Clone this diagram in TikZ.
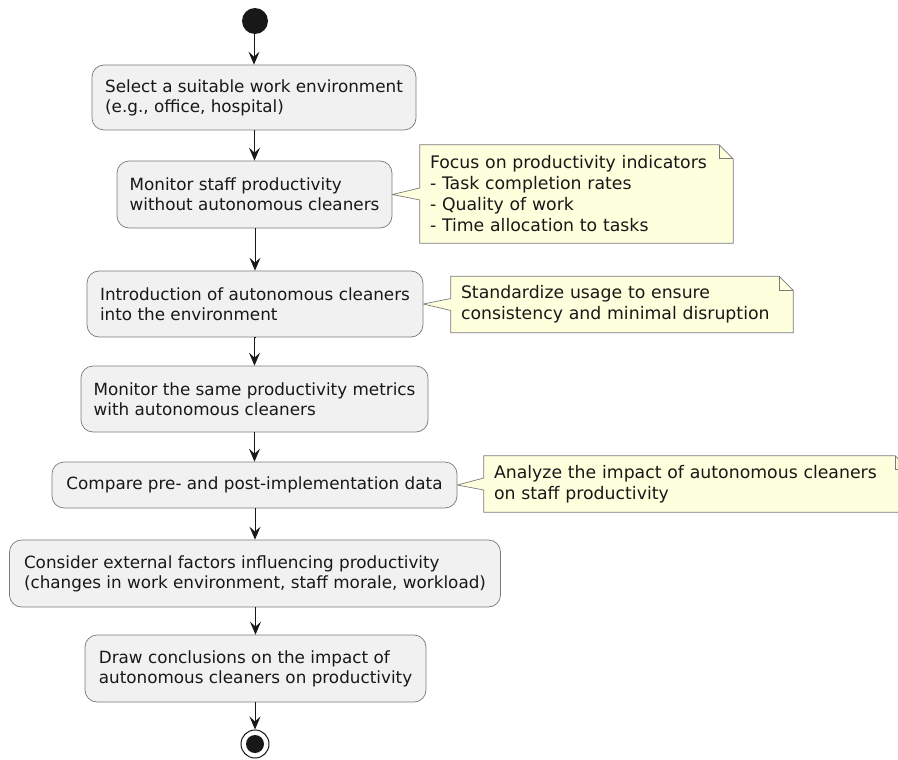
\documentclass[tikz,border=0pt]{standalone}
\usepackage{fontspec}
\setmainfont{DejaVu Sans}
\usetikzlibrary{arrows.meta,calc,backgrounds}
\definecolor{actfill}{HTML}{F1F1F1}
\definecolor{notefill}{HTML}{FEFFDD}
\definecolor{ink}{HTML}{181818}
\definecolor{rim}{HTML}{7A7A7A}
\tikzset{act/.style={draw=rim, fill=actfill, line width=.7pt, rounded corners=12pt, align=left, inner sep=0pt, font=\fontsize{16.8}{20}\selectfont, text=ink}, memo/.style={align=left, inner sep=0pt, font=\fontsize{17.3}{21}\selectfont, text=ink}, memoline/.style={draw=rim, fill=notefill, line width=.7pt}, flow/.style={-{Stealth[length=13pt,width=11pt,inset=5pt]}, line width=1pt, color=ink}}

\begin{document}
\begin{tikzpicture}[x=1pt,y=-1pt]
\useasboundingbox (0,0) rectangle (898,760);
\node[circle, fill=ink, minimum size=26pt, inner sep=0pt] (start) at (255,21) {};
\node[act, minimum width=324pt, minimum height=65pt] (b1) at (254,97.5) {Select a suitable work environment\\(e.g., office, hospital)};
\node[act, minimum width=275pt, minimum height=67pt] (b2) at (254.5,194.5) {Monitor staff productivity\\without autonomous cleaners};
\node[act, minimum width=336pt, minimum height=66pt] (b3) at (255,304) {Introduction of autonomous cleaners\\into the environment};
\node[act, minimum width=347pt, minimum height=66pt] (b4) at (254.5,399) {Monitor the same productivity metrics\\with autonomous cleaners};
\node[act, minimum width=405pt, minimum height=46pt] (b5) at (254.5,485) {Compare pre- and post-implementation data};
\node[act, minimum width=491pt, minimum height=67pt] (b6) at (255,573.5) {Consider external factors influencing productivity\\(changes in work environment, staff morale, workload)};
\node[act, minimum width=341pt, minimum height=67pt] (b7) at (255.5,668.5) {Draw conclusions on the impact of\\autonomous cleaners on productivity};
\node[circle, draw=ink, line width=1pt, minimum size=28pt, inner sep=0pt] (stop) at (255,744) {};
\node[circle, fill=ink, minimum size=18pt, inner sep=0pt] (stopdot) at (stop) {};
% notes
\node[memo, minimum width=313pt, minimum height=98pt, text width=293pt] (n1) at (576.5,194) {Focus on productivity indicators\\- Task completion rates\\- Quality of work\\- Time allocation to tasks};
\node[memo, minimum width=342pt, minimum height=56pt, text width=322pt] (n2) at (622,304.5) {Standardize usage to ensure\\consistency and minimal disruption};
\node[memo, minimum width=425pt, minimum height=56pt, text width=405pt] (n3) at (696.5,484) {Analyze the impact of autonomous cleaners\\on staff productivity};
\begin{scope}[on background layer]
\foreach \n/\b in {n1/b2, n2/b3, n3/b5} {
  \draw[memoline] (\n.north west) -- ($(\n.north east)+(-14,0)$) -- ($(\n.north east)+(0,14)$) -- (\n.south east) -- (\n.south west) -- ($(\n.west)+(0,6)$) -- (\b.east) -- ($(\n.west)+(0,-6)$) -- cycle;
  \draw[memoline, fill=none] ($(\n.north east)+(-14,0)$) |- ($(\n.north east)+(0,14)$);
}
\end{scope}
\foreach \a/\b in {start/b1, b1/b2, b2/b3, b3/b4, b4/b5, b5/b6, b6/b7, b7/stop}
  \draw[flow] (\a.south) -- (\a.south -| \b.north) -- (\b.north);
\end{tikzpicture}
\end{document}
